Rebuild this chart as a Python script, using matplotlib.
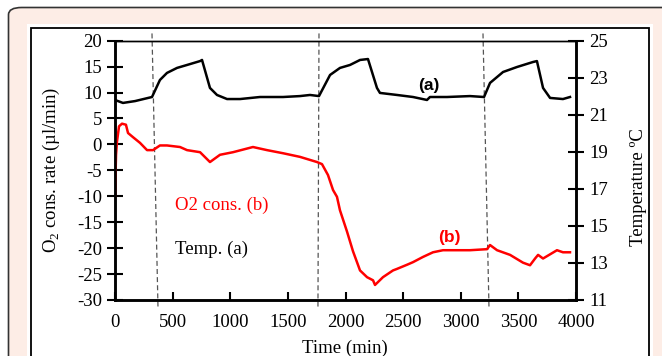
import matplotlib
matplotlib.use("Agg")
import matplotlib.pyplot as plt
from matplotlib.patches import FancyBboxPatch, Rectangle

plt.rcParams['font.family'] = ['Liberation Serif', 'DejaVu Serif']
plt.rcParams['mathtext.fontset'] = 'custom'
plt.rcParams['mathtext.rm'] = 'Liberation Serif'
plt.rcParams['axes.unicode_minus'] = False

# O2 consumption rate (b), left axis
o2_time = [0, 9, 17, 35, 61, 95, 113, 156, 217, 278, 330, 390, 451, 564, 625, 738, 824,
           911, 1024, 1197, 1319, 1458, 1605, 1753, 1796, 1848, 1892, 1926, 1952, 2013,
           2065, 2126, 2187, 2239, 2256, 2325, 2412, 2447, 2534, 2586, 2672, 2759, 2846,
           2968, 3080, 3228, 3254, 3315, 3428, 3540, 3601, 3645, 3671, 3714, 3835, 3887, 3948]
o2_rate = [-10, -2, 0.5, 3.5, 4.0, 3.8, 2.2, 1.4, 0.3, -1.1, -1.1, -0.2, -0.2, -0.5, -1.1, -1.5, -3.4,
           -2.0, -1.5, -0.5, -1.1, -1.7, -2.4, -3.4, -3.8, -5.9, -8.8, -10.1, -12.7, -16.8,
           -20.6, -24.3, -25.6, -26.2, -27.1, -25.6, -24.3, -24.0, -23.2, -22.7, -21.7, -20.8, -20.4,
           -20.4, -20.4, -20.2, -19.4, -20.4, -21.3, -22.8, -23.3, -22.0, -21.3, -22.0, -20.4, -20.8, -20.8]

# Temperature (a), right axis
t_time = [0, 69, 174, 321, 390, 451, 538, 625, 738, 755, 824, 885, 972, 1085, 1258, 1458,
          1605, 1692, 1770, 1866, 1952, 2039, 2126, 2195, 2273, 2299, 2447, 2586, 2707,
          2733, 2881, 3080, 3202, 3254, 3367, 3488, 3627, 3661, 3714, 3775, 3887, 3948]
temp = [21.80, 21.64, 21.74, 21.96, 22.88, 23.26, 23.53, 23.69, 23.90, 23.96, 22.45, 22.07,
        21.85, 21.85, 21.96, 21.96, 22.01, 22.07, 22.01, 23.15, 23.53, 23.69, 23.96, 24.01,
        22.45, 22.18, 22.07, 21.96, 21.80, 21.96, 21.96, 22.01, 21.96, 22.72, 23.31, 23.58,
        23.85, 23.90, 22.45, 21.91, 21.85, 21.96]

# dashed markers (top time, bottom time)
dash_top = [321, 1770, 3193]
dash_bottom = [373, 1761, 3245]

x_ticks = [0, 500, 1000, 1500, 2000, 2500, 3000, 3500, 4000]
y_ticks = [-30, -25, -20, -15, -10, -5, 0, 5, 10, 15, 20]
t_ticks = [11, 13, 15, 17, 19, 21, 23, 25]

W, H = 662, 356
fig = plt.figure(figsize=(W / 100, H / 100), dpi=100)
fig.patch.set_facecolor('white')

def fx(px):
    return px / W

def fy(py):
    return 1 - py / H

# outer rounded pink frame
fig.patches.append(FancyBboxPatch((fx(8.5), fy(380)), fx(700), (380 - 7.5) / H,
                                  boxstyle="round,pad=0,rounding_size=0.02",
                                  transform=fig.transFigure, facecolor='#fdede6',
                                  edgecolor='#333333', lw=1.2, zorder=-3))
# inner white panel
fig.patches.append(Rectangle((fx(27), fy(380)), fx(653 - 27), (380 - 24) / H,
                             transform=fig.transFigure, facecolor='white',
                             edgecolor='none', zorder=-2))
# black frame
fig.patches.append(Rectangle((fx(31), fy(380)), fx(649 - 31), (380 - 28) / H,
                             transform=fig.transFigure, facecolor='none',
                             edgecolor='black', lw=1.3, zorder=-1))

ax = fig.add_axes([fx(115), fy(300), fx(576 - 115), (300 - 40.7) / H])
ax.set_facecolor('none')
ax2 = ax.twinx()

ax.plot(o2_time, o2_rate, color='#ff0000', lw=1.8, zorder=3)
ax2.plot(t_time, temp, color='black', lw=1.8, zorder=3)

for xt, xb in zip(dash_top, dash_bottom):
    ax.plot([xt, xb], [21.4, -31.4], color='#555555', lw=0.9, dashes=(4, 2.5),
            clip_on=False, zorder=2)

ax.set_xlim(0, 4000)
ax.set_ylim(-30, 20)
ax2.set_ylim(11, 25)
ax.set_xticks(x_ticks)
ax.set_yticks(y_ticks)
ax2.set_yticks(t_ticks)

fs = 13.5
ax.tick_params(axis='x', direction='in', length=6, width=1.5, labelsize=fs, pad=10)
ax.tick_params(axis='y', direction='inout', length=12, width=1.5, labelsize=fs, pad=3.5)
ax2.tick_params(axis='y', direction='inout', length=12, width=1.5, labelsize=fs, pad=3.5)

for a in (ax, ax2):
    a.spines['top'].set_linewidth(1.0)
    for s in ('left', 'right', 'bottom'):
        a.spines[s].set_linewidth(1.8)

ax.set_xlabel('Time (min)', fontsize=fs)
ax.xaxis.set_label_coords(0.499, -0.152)
ax.set_ylabel(r'O$_\mathregular{2}$ cons. rate (µl/min)', fontsize=fs)
ax.yaxis.set_label_coords(-0.115, 0.5)
ax2.set_ylabel('Temperature ºC', fontsize=fs)
ax2.yaxis.set_label_coords(1.118, 0.436)

ax.text(520, -11.7, 'O2 cons. (b)', color='#ff0000', fontsize=fs, va='center', ha='left')
ax.text(520, -20.2, 'Temp. (a)', color='black', fontsize=fs, va='center', ha='left')
ax.text(2725, 11.4, '(a)', color='black', fontsize=12.5, fontweight='bold',
        family='Liberation Sans', ha='center', va='center')
ax.text(2898, -17.9, '(b)', color='#ff0000', fontsize=12.5, fontweight='bold',
        family='Liberation Sans', ha='center', va='center')

fig.savefig('out.png', dpi=100)
